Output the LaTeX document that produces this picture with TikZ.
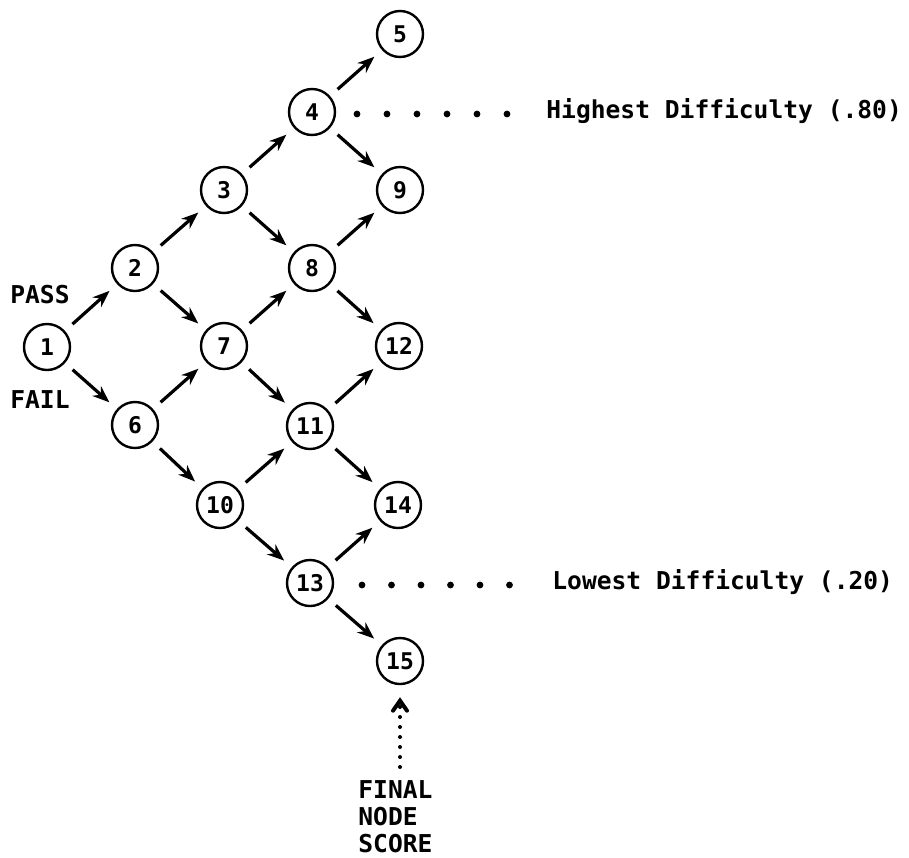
\documentclass[tikz,border=0pt]{standalone}
\usepackage{fontspec}
\setmonofont{DejaVu Sans Mono}
\usetikzlibrary{arrows.meta}
\begin{document}
\begin{tikzpicture}[x=0.5pt,y=-0.5pt,
  nd/.style={circle,draw,line width=1.2pt,minimum size=23pt,inner sep=0pt,font=\ttfamily\bfseries\fontsize{11.5}{12}\selectfont},
  edge/.style={line width=1.6pt,shorten <=5pt,shorten >=5pt,-{Stealth[length=8.5pt,width=6.5pt]}},
  lbl/.style={font=\ttfamily\bfseries\fontsize{12.3}{13.5}\selectfont,inner sep=0pt},
  dt/.style={fill,circle,inner sep=0pt,minimum size=3.4pt}]
\useasboundingbox (0,0) rectangle (909,857);
\node[nd] (n1) at (47,347) {1};
\node[nd] (n2) at (135,268) {2};
\node[nd] (n3) at (224,190) {3};
\node[nd] (n4) at (312,112) {4};
\node[nd] (n5) at (400,34) {5};
\node[nd] (n6) at (135,425) {6};
\node[nd] (n7) at (224,346) {7};
\node[nd] (n8) at (312,268) {8};
\node[nd] (n9) at (400,190) {9};
\node[nd] (n10) at (220,505) {10};
\node[nd] (n11) at (310,426) {11};
\node[nd] (n12) at (399,346) {12};
\node[nd] (n13) at (310,583) {13};
\node[nd] (n14) at (398,505) {14};
\node[nd] (n15) at (400,661) {15};
\foreach \a/\b in {1/2,1/6,2/3,2/7,3/4,3/8,4/5,4/9,6/7,6/10,7/8,7/11,8/9,8/12,10/11,10/13,11/12,11/14,13/14,13/15}
  \draw[edge] (n\a) -- (n\b);
\node[lbl] (pass) at (40,295) {PASS};
\node[lbl] (fail) at (40,400) {FAIL};
\foreach \i in {0,...,5} {
  \node[dt] (hd\i) at (357+30*\i,114) {};
  \node[dt] (ld\i) at (362+29.5*\i,585) {};
}
\node[lbl,anchor=west] (hi) at (546,111) {Highest Difficulty (.80)};
\node[lbl,anchor=west] (lo) at (552,582) {Lowest Difficulty (.20)};
\node[lbl,anchor=north west,align=left] (fin) at (358,780) {FINAL\\NODE\\SCORE};
\coordinate (fa) at (400,767);
\draw[line width=2pt,line cap=round,dash pattern=on 0pt off 5pt,shorten >=6pt,-{Straight Barb[length=5pt,width=7pt,line cap=round]}] (fa) -- (n15);
\end{tikzpicture}
\end{document}
